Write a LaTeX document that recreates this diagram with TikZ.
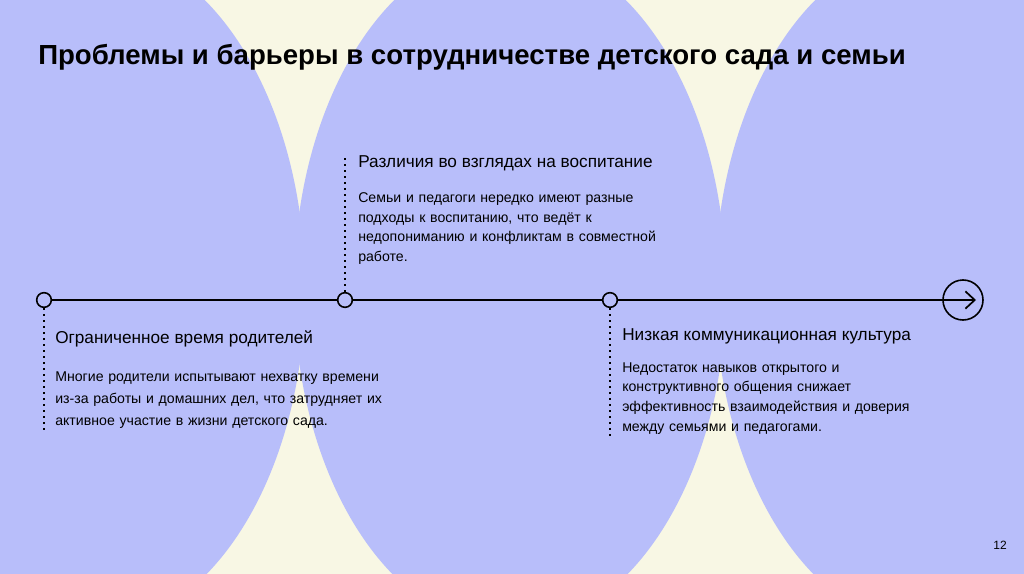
\documentclass[tikz,border=0pt]{standalone}
\usepackage{fontspec}
\setmainfont{Liberation Sans}
\usetikzlibrary{arrows.meta}

\definecolor{lilac}{RGB}{184,190,250}
\definecolor{cream}{RGB}{248,247,228}

\tikzstyle{stop} = [circle, draw, line width=1.2pt, fill=lilac, inner sep=0pt, minimum size=11pt]
\tikzstyle{goal} = [circle, draw, line width=1.2pt, inner sep=0pt, minimum size=30pt]
\tikzstyle{trail} = [line width=1.3pt, dash pattern=on 1.3pt off 3.2pt]
\tikzstyle{title} = [anchor=base west, inner sep=0pt, font=\fontsize{20.7}{24}\selectfont\bfseries]
\tikzstyle{head} = [anchor=base west, inner sep=0pt, font=\fontsize{12.9}{15}\selectfont]
\tikzstyle{body} = [anchor=base west, inner sep=0pt, text width=320pt, align=left]

\begin{document}
\begin{tikzpicture}[x=0.75pt,y=-0.75pt]
\useasboundingbox (0,0) rectangle (1024,574);
\clip (0,0) rectangle (1024,574);
\fill[cream] (0,0) rectangle (1024,574);
\foreach \cx in {89,510,931}
    \fill[lilac] (\cx,288) ellipse [x radius=216, y radius=341];

\node[title] (title) at (38,65) {Проблемы и барьеры в сотрудничестве детского сада и семьи};

\node[stop] (s1) at (44,300) {};
\node[stop] (s2) at (345,300) {};
\node[stop] (s3) at (610,300) {};
\node[goal] (goal) at (963,300) {};
\coordinate (tip) at (976,300);
\draw[line width=1.3pt] (s1) -- (s2);
\draw[line width=1.3pt] (s2) -- (s3);
\draw[line width=1.3pt, -{Straight Barb[length=7pt,width=13pt]}] (s3) -- (tip);

\coordinate (t1) at (44,434);
\coordinate (t2) at (345,156);
\coordinate (t3) at (610,437);
\draw[trail] (s1) -- (t1);
\draw[trail] (s2) -- (t2);
\draw[trail] (s3) -- (t3);

\node[head] (h1) at (55,343) {Ограниченное время родителей};
\node[body, font=\fontsize{10.6}{16.5}\selectfont] (b1) at (55,381)
    {Многие родители испытывают нехватку времени\\из-за работы и домашних дел, что затрудняет их\\активное участие в жизни детского сада.};

\node[head] (h2) at (358,168) {Различия во взглядах на воспитание};
\node[body, font=\fontsize{10.6}{14.6}\selectfont] (b2) at (358,203)
    {Семьи и педагоги нередко имеют разные\\подходы к воспитанию, что ведёт к\\недопониманию и конфликтам в совместной\\работе.};

\node[head] (h3) at (622,340) {Низкая коммуникационная культура};
\node[body, font=\fontsize{10.6}{14.85}\selectfont] (b3) at (622,372)
    {Недостаток навыков открытого и\\конструктивного общения снижает\\эффективность взаимодействия и доверия\\между семьями и педагогами.};

\node[font=\fontsize{9}{11}\selectfont] (page) at (1000,545) {12};
\end{tikzpicture}
\end{document}
